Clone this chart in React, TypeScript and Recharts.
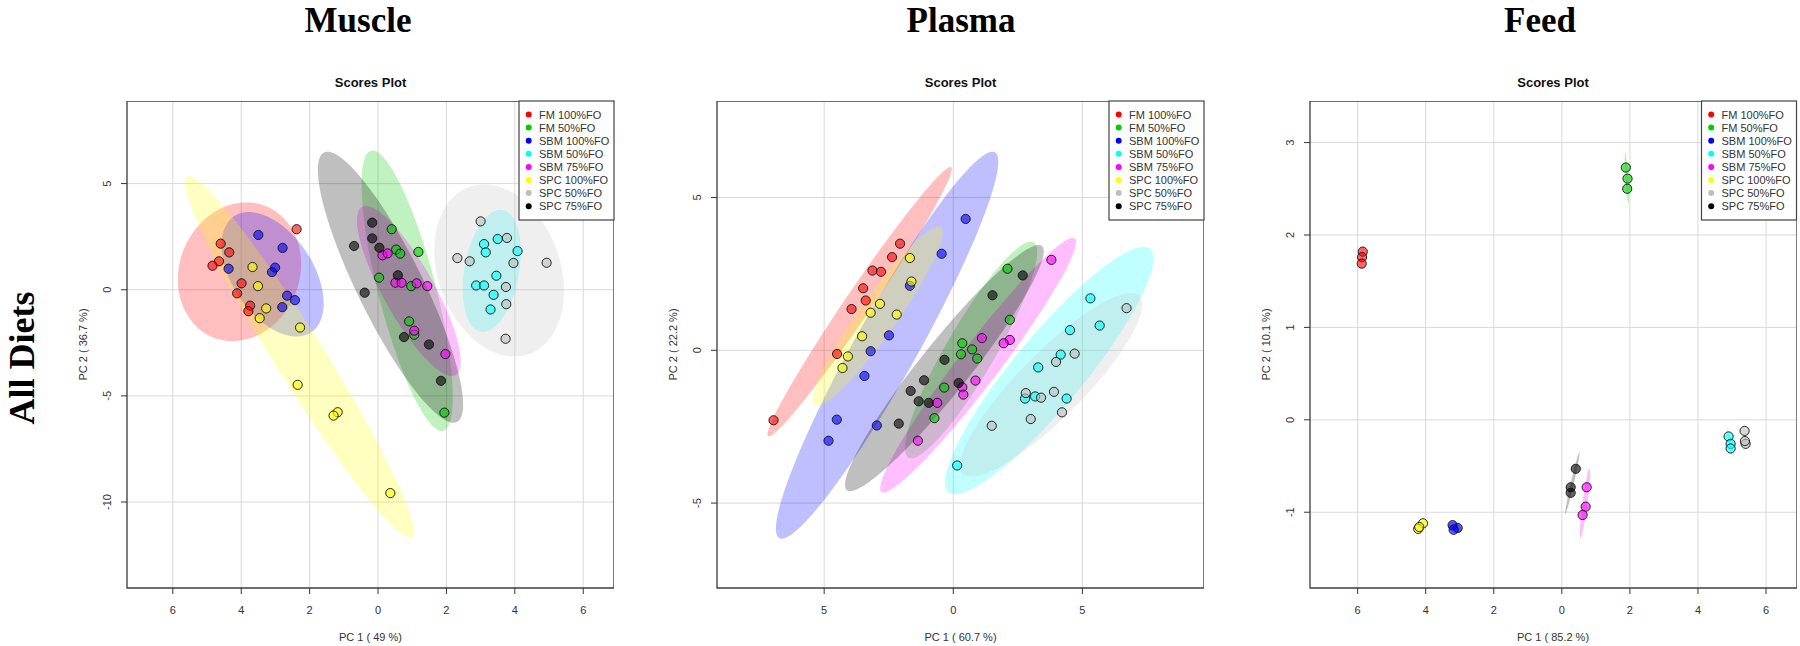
import { ScatterChart, Scatter, XAxis, YAxis, CartesianGrid, ReferenceArea } from "recharts";

const groups = ["FM 100%FO", "FM 50%FO", "SBM 100%FO", "SBM 50%FO", "SBM 75%FO", "SPC 100%FO", "SPC 50%FO", "SPC 75%FO"];
const groupColors = ["#ff0000", "#00cd00", "#0000ff", "#00ffff", "#ff00ff", "#ffff00", "#bebebe", "#000000"];

// Muscle scores [PC1, PC2]
const muscleFM100 = [[-2.38, 2.85], [-4.6, 2.17], [-4.35, 1.76], [-4.65, 1.34], [-4.84, 1.13], [-3.99, 0.3], [-4.12, -0.17], [-3.74, -0.75], [-3.79, -1.01]];
const muscleFM50 = [[0.4, 2.85], [0.53, 1.89], [0.65, 1.7], [1.18, 1.78], [0.03, 0.57], [0.97, 0.17], [0.91, -1.49], [1.06, -2.12], [1.94, -5.79]];
const muscleSBM100 = [[-3.5, 2.58], [-2.79, 1.97], [-4.37, 0.99], [-3.01, 1.04], [-3.1, 0.83], [-2.66, -0.28], [-2.43, -0.49], [-2.8, -0.82]];
const muscleSBM50 = [[3.1, 2.15], [3.15, 1.76], [3.5, 2.39], [4.08, 1.82], [3.46, 0.66], [2.87, 0.2], [3.1, 0.2], [3.38, -0.24], [3.29, -0.93]];
const muscleSBM75 = [[0.13, 1.62], [0.28, 1.71], [0.51, 0.33], [0.69, 0.33], [1.13, 0.3], [1.44, 0.17], [1.06, -1.93], [1.97, -3.03]];
const muscleSPC100 = [[-3.67, 1.07], [-3.51, 0.17], [-3.27, -0.88], [-3.46, -1.34], [-2.28, -1.78], [-2.35, -4.48], [-1.18, -5.77], [-1.3, -5.93], [0.36, -9.58]];
const muscleSPC50 = [[3.0, 3.22], [3.77, 2.44], [2.32, 1.49], [2.68, 1.34], [3.96, 1.26], [4.93, 1.27], [3.74, 0.13], [3.75, -0.68], [3.73, -2.31]];
const muscleSPC75 = [[-0.17, 3.16], [-0.17, 2.42], [-0.7, 2.06], [0.04, 1.98], [0.58, 0.68], [-0.39, -0.14], [0.76, -2.23], [1.49, -2.58], [1.84, -4.29]];

// Plasma scores [PC1, PC2]
const plasmaFM100 = [[-2.06, 3.49], [-2.37, 3.05], [-3.13, 2.61], [-2.8, 2.57], [-3.49, 2.03], [-3.39, 1.63], [-3.94, 1.35], [-4.5, -0.12], [-6.96, -2.29]];
const plasmaFM50 = [[2.1, 2.67], [2.19, 1.0], [0.35, 0.23], [0.73, 0.03], [0.3, -0.13], [0.93, -0.27], [-0.35, -1.22], [-0.73, -2.22]];
const plasmaSBM100 = [[0.48, 4.3], [-0.45, 3.16], [-1.68, 2.11], [-2.49, 0.49], [-3.2, -0.03], [-3.44, -0.84], [-4.51, -2.27], [-2.96, -2.46], [-4.83, -2.96]];
const plasmaSBM50 = [[5.31, 1.7], [5.67, 0.81], [4.52, 0.66], [4.16, -0.14], [3.29, -0.56], [2.78, -1.58], [3.17, -1.51], [4.39, -1.58], [0.15, -3.77]];
const plasmaSBM75 = [[3.8, 2.96], [1.11, 0.4], [2.19, 0.34], [1.95, 0.23], [0.86, -0.99], [0.35, -1.21], [0.39, -1.45], [-0.62, -1.72], [-1.37, -2.96]];
const plasmaSPC100 = [[-1.68, 3.02], [-1.62, 2.25], [-2.84, 1.52], [-3.2, 1.23], [-2.19, 1.17], [-3.53, 0.46], [-4.08, -0.2], [-4.29, -0.58]];
const plasmaSPC50 = [[6.71, 1.38], [4.7, -0.11], [3.98, -0.38], [3.9, -1.36], [3.4, -1.55], [2.81, -1.4], [4.21, -2.03], [3.0, -2.25], [1.49, -2.47]];
const plasmaSPC75 = [[2.69, 2.45], [1.52, 1.8], [-0.34, -0.31], [-1.13, -0.98], [-1.65, -1.33], [-1.34, -1.67], [-0.95, -1.72], [-2.11, -2.4], [0.21, -1.07]];

// Feed scores [PC1, PC2]
const feedFM100 = [[-5.85, 1.82], [-5.87, 1.76], [-5.88, 1.69]];
const feedFM50 = [[1.88, 2.73], [1.93, 2.61], [1.92, 2.5]];
const feedSBM100 = [[-3.21, -1.14], [-3.06, -1.17], [-3.18, -1.19]];
const feedSBM50 = [[4.9, -0.18], [4.96, -0.26], [4.96, -0.31]];
const feedSBM75 = [[0.73, -0.73], [0.7, -0.94], [0.61, -1.03]];
const feedSPC100 = [[-4.08, -1.12], [-4.22, -1.18], [-4.19, -1.16]];
const feedSPC50 = [[5.37, -0.12], [5.4, -0.26], [5.38, -0.23]];
const feedSPC75 = [[0.41, -0.53], [0.26, -0.73], [0.26, -0.79]];

const FRAME = 487;
const TOP = 101;
const SANS = "'Liberation Sans', Arial, sans-serif";
const SERIF = "'Liberation Serif', 'Times New Roman', serif";

const panels = [
  {
    title: "Muscle", titleX: 358, left: 127,
    xDomain: [-7.34, 6.9], yDomain: [-14.05, 8.89],
    xTicks: [-6, -4, -2, 0, 2, 4, 6], yTicks: [-10, -5, 0, 5],
    xLabel: "PC 1 ( 49 %)", yLabel: "PC 2 ( 36.7 %)",
    data: [muscleFM100, muscleFM50, muscleSBM100, muscleSBM50, muscleSBM75, muscleSPC100, muscleSPC50, muscleSPC75],
  },
  {
    title: "Plasma", titleX: 961, left: 717,
    xDomain: [-9.15, 9.71], yDomain: [-7.78, 8.16],
    xTicks: [-5, 0, 5], yTicks: [-5, 0, 5],
    xLabel: "PC 1 ( 60.7 %)", yLabel: "PC 2 ( 22.2 %)",
    data: [plasmaFM100, plasmaFM50, plasmaSBM100, plasmaSBM50, plasmaSBM75, plasmaSPC100, plasmaSPC50, plasmaSPC75],
  },
  {
    title: "Feed", titleX: 1540, left: 1309.5,
    xDomain: [-7.4, 6.91], yDomain: [-1.82, 3.45],
    xTicks: [-6, -4, -2, 0, 2, 4, 6], yTicks: [-1, 0, 1, 2, 3],
    xLabel: "PC 1 ( 85.2 %)", yLabel: "PC 2 ( 10.1 %)",
    data: [feedFM100, feedFM50, feedSBM100, feedSBM50, feedSBM75, feedSPC100, feedSPC50, feedSPC75],
  },
];

// 95% confidence ellipse, same as R's ellipse::ellipse(cov, centre, level = 0.95)
const ellipse = (pts: number[][], n = 100) => {
  const k = pts.length;
  const mx = pts.reduce((s, p) => s + p[0], 0) / k;
  const my = pts.reduce((s, p) => s + p[1], 0) / k;
  let sxx = 0, syy = 0, sxy = 0;
  pts.forEach(([x, y]) => {
    sxx += (x - mx) ** 2;
    syy += (y - my) ** 2;
    sxy += (x - mx) * (y - my);
  });
  const sx = Math.sqrt(sxx / (k - 1));
  const sy = Math.sqrt(syy / (k - 1));
  const r = sxy / (k - 1) / (sx * sy);
  const d = Math.acos(Math.max(-1, Math.min(1, r)));
  const t = Math.sqrt(5.991464547);
  return Array.from({ length: n }, (_, i) => {
    const a = (2 * Math.PI * i) / (n - 1);
    return { x: mx + t * sx * Math.cos(a + d / 2), y: my + t * sy * Math.cos(a - d / 2) };
  });
};

const ellipseFill = (color: string) => (props: any) => {
  const pts = props.points || [];
  if (!pts.length) return <g />;
  const d = pts.map((p: any, i: number) => `${i ? "L" : "M"}${p.x},${p.y}`).join("") + "Z";
  return <path d={d} fill={color} fillOpacity={0.25} stroke="none" />;
};

const dot = (color: string) => (p: any) => (
  <circle cx={p.cx} cy={p.cy} r={4.6} fill={color} fillOpacity={0.6} stroke="#111" strokeWidth={0.9} />
);

const YTick = (props: any) => {
  const { x, y, payload } = props;
  return (
    <text x={x} y={y} transform={`rotate(-90 ${x} ${y})`} textAnchor="middle" fontSize={11} fill="#333" fontFamily={SANS}>
      {payload.value}
    </text>
  );
};

const Panel = ({ p }: { p: any }) => (
  <div style={{ position: "absolute", left: p.left - 60, top: TOP }}>
    <ScatterChart width={FRAME + 60} height={FRAME + 60} margin={{ top: 0, right: 0, bottom: 0, left: 0 }}>
      <CartesianGrid stroke="#d9d9d9" strokeWidth={1} />
      <XAxis
        type="number" dataKey="x" domain={p.xDomain} ticks={p.xTicks} allowDataOverflow height={60}
        axisLine={false} tickSize={6} tickMargin={12} tickLine={{ stroke: "#333" }}
        tickFormatter={(v: number) => String(Math.abs(v))}
        tick={{ fontSize: 11, fill: "#333", fontFamily: SANS }}
      />
      <YAxis
        type="number" dataKey="y" domain={p.yDomain} ticks={p.yTicks} allowDataOverflow width={60}
        axisLine={false} tickSize={6} tickMargin={10} tickLine={{ stroke: "#333" }} tick={<YTick />}
      />
      <ReferenceArea x1={p.xDomain[0]} x2={p.xDomain[1]} y1={p.yDomain[0]} y2={p.yDomain[1]} fill="none" stroke="#444" strokeWidth={1.3} />
      {p.data.map((g: number[][], i: number) => (
        <Scatter key={"e" + i} data={ellipse(g)} shape={() => <g />} line={ellipseFill(groupColors[i])} isAnimationActive={false} />
      ))}
      {p.data.map((g: number[][], i: number) => (
        <Scatter key={"p" + i} data={g.map(([x, y]) => ({ x, y }))} shape={dot(groupColors[i])} isAnimationActive={false} />
      ))}
    </ScatterChart>
  </div>
);

const Overlay = () => (
  <svg width={1800} height={646} style={{ position: "absolute", left: 0, top: 0, pointerEvents: "none" }}>
    <text x={34} y={358} transform="rotate(-90 34 358)" textAnchor="middle" fontSize={36} fontWeight="bold" fontFamily={SERIF} fill="#000">
      All Diets
    </text>
    {panels.map((p) => {
      const cx = p.left + FRAME / 2;
      const cy = TOP + FRAME / 2;
      const bx = p.left + FRAME - 95;
      return (
        <g key={p.title}>
          <text x={p.titleX} y={32} textAnchor="middle" fontSize={35} fontWeight="bold" fontFamily={SERIF} fill="#000">{p.title}</text>
          <text x={cx} y={87} textAnchor="middle" fontSize={13} fontWeight="bold" fontFamily={SANS} fill="#111">Scores Plot</text>
          <text x={cx} y={641} textAnchor="middle" fontSize={11} fontFamily={SANS} fill="#333">{p.xLabel}</text>
          <text x={p.left - 40} y={cy} transform={`rotate(-90 ${p.left - 40} ${cy})`} textAnchor="middle" fontSize={11} fontFamily={SANS} fill="#333">{p.yLabel}</text>
          <rect x={bx} y={TOP} width={95} height={119} fill="#fff" stroke="#444" strokeWidth={1.2} />
          {groups.map((g, i) => (
            <g key={g}>
              <circle cx={bx + 9.7} cy={TOP + 13.5 + i * 13.1} r={3} fill={groupColors[i]} />
              <text x={bx + 20} y={TOP + 13.5 + i * 13.1} dominantBaseline="central" fontSize={11} fontFamily={SANS} fill="#333">{g}</text>
            </g>
          ))}
        </g>
      );
    })}
  </svg>
);

const App = () => (
  <div style={{ position: "absolute", left: 0, top: 0, width: 1800, height: 646, background: "#fff", overflow: "hidden" }}>
    {panels.map((p) => (
      <Panel key={p.title} p={p} />
    ))}
    <Overlay />
  </div>
);

export default App;
